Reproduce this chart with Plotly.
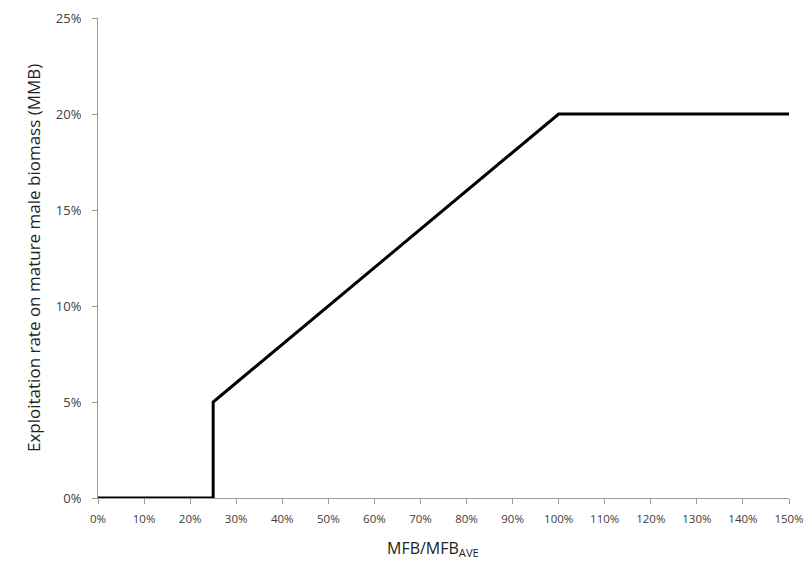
import plotly.graph_objects as go

mfb_ratio = [0, 25, 25, 100, 150]
exploitation_rate = [0, 0, 5, 20, 20]
x_ticks = list(range(0, 151, 10))
x_tick_labels = [f"{v}%" for v in x_ticks]
y_ticks = [0, 5, 10, 15, 20, 25]
y_tick_labels = [f"{v}%" for v in y_ticks]
x_title = "MFB/MFB<sub>AVE</sub>"
y_title = "Exploitation rate on mature male biomass (MMB)"

fig = go.Figure()
fig.add_trace(go.Scatter(
    x=mfb_ratio, y=exploitation_rate, mode="lines",
    line=dict(color="black", width=3), showlegend=False,
    cliponaxis=False,
))

font_family = "'Open Sans', Lato, sans-serif"
axis_common = dict(
    showgrid=False, zeroline=False, showline=True, linecolor="#9a9a9a", linewidth=1,
    ticks="outside", ticklen=5, tickcolor="#9a9a9a", automargin=False,
)
fig.update_layout(
    width=807, height=571,
    margin=dict(l=98, r=18, t=18, b=73),
    paper_bgcolor="white", plot_bgcolor="white",
    font=dict(family=font_family, color="#404040"),
    xaxis=dict(range=[0, 150], tickvals=x_ticks, ticktext=x_tick_labels,
               tickfont=dict(size=11.5, color="#404040"), ticklabelstandoff=5,
               **axis_common),
    yaxis=dict(range=[0, 25], tickvals=y_ticks, ticktext=y_tick_labels,
               tickfont=dict(size=13, color="#404040"), ticklabelstandoff=8,
               **axis_common),
    annotations=[
        dict(text=x_title, xref="paper", yref="paper", x=0.485, y=0,
             xanchor="center", yanchor="middle", yshift=-50, showarrow=False,
             font=dict(size=16, color="#222")),
        dict(text=y_title, xref="paper", yref="paper", x=0, y=0.5,
             xanchor="center", yanchor="middle", xshift=-65, textangle=-90,
             showarrow=False, font=dict(size=17, color="#222")),
    ],
)

fig.write_html("out.html", config={"displayModeBar": False},
               post_script="document.body.style.margin='0';document.body.style.padding='0';")
